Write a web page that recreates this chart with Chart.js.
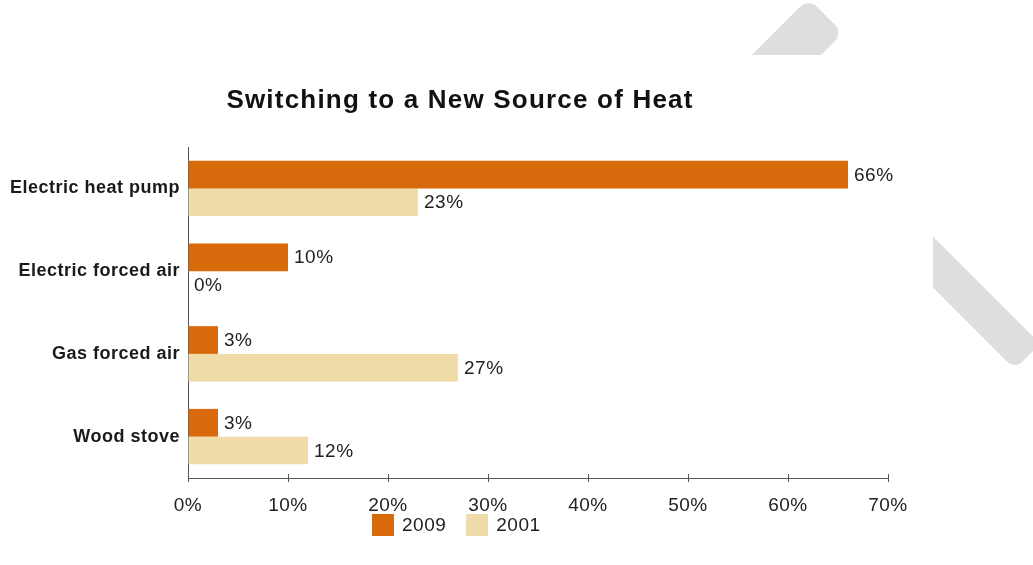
<!DOCTYPE html>
<html>
<head>
<meta charset="utf-8">
<title>Switching to a New Source of Heat</title>
<script src="https://cdn.jsdelivr.net/npm/chart.js@4.4.1/dist/chart.umd.min.js"></script>
<style>
    html, body {
        margin: 0;
        padding: 0;
        background: #fff;
        overflow: hidden;
    }
    body {
        position: relative;
        width: 1033px;
        height: 565px;
        font-family: "Liberation Sans", Arial, sans-serif;
    }
    .stroke {
        position: absolute;
        background: #dedede;
        transform-origin: 0 50%;
        z-index: 0;
    }
    #strokeUp {
        left: 700px;
        top: 117px;
        width: 178px;
        height: 49px;
        border-radius: 12px;
        transform: rotate(-45deg);
    }
    #strokeDown {
        left: 850px;
        top: 161px;
        width: 251px;
        height: 36px;
        border-radius: 10px;
        transform: rotate(45deg);
    }
    #chartBox {
        position: absolute;
        left: 0;
        top: 55px;
        width: 933px;
        height: 510px;
        background: #fff;
        z-index: 1;
    }
    #chartTitle {
        position: absolute;
        left: 0;
        top: 84px;
        width: 920px;
        text-align: center;
        font-weight: bold;
        font-size: 26px;
        line-height: 30px;
        letter-spacing: 1.2px;
        color: #111;
        z-index: 2;
    }
    #legend {
        position: absolute;
        top: 514px;
        left: 372px;
        display: flex;
        align-items: center;
        font-size: 19px;
        line-height: 22px;
        letter-spacing: 0.5px;
        color: #222;
        z-index: 2;
    }
    .legend-box {
        width: 22px;
        height: 22px;
        margin-right: 8px;
    }
    .legend-item {
        display: flex;
        align-items: center;
        margin-right: 20px;
    }
</style>
</head>
<body>
<div class="stroke" id="strokeUp"></div>
<div class="stroke" id="strokeDown"></div>
<div id="chartBox"><canvas id="heatChart"></canvas></div>
<div id="chartTitle">Switching to a New Source of Heat</div>
<div id="legend"></div>

<script>
// Data
const categories = ['Electric heat pump', 'Electric forced air', 'Gas forced air', 'Wood stove'];
const seriesNames = ['2009', '2001'];
const values2009 = [66, 10, 3, 3];
const values2001 = [23, 0, 27, 12];
const xTicks = [0, 10, 20, 30, 40, 50, 60, 70];

// Colours
const ORANGE = '#d96a0b';
const BEIGE = '#efdca8';
const AXIS = '#555555';

const FONT = '"Liberation Sans", Arial, sans-serif';

// Text spacing on the canvas, reset whenever the canvas is resized
const letterSpacingPlugin = {
    id: 'letterSpacing',
    beforeUpdate(chart) {
        chart.ctx.letterSpacing = '0.5px';
    },
    beforeDraw(chart) {
        chart.ctx.letterSpacing = '0.5px';
    }
};

// Value labels at the end of each bar, plus tick marks above the x axis
const valueLabelPlugin = {
    id: 'valueLabels',
    afterDatasetsDraw(chart) {
        const ctx = chart.ctx;
        ctx.save();
        ctx.font = '19px ' + FONT;
        ctx.fillStyle = '#222';
        ctx.textAlign = 'left';
        ctx.textBaseline = 'middle';
        chart.data.datasets.forEach((ds, i) => {
            const meta = chart.getDatasetMeta(i);
            meta.data.forEach((bar, j) => {
                ctx.fillText(ds.data[j] + '%', bar.x + 6, bar.y + 1);
            });
        });
        ctx.restore();
    },
    afterDraw(chart) {
        const ctx = chart.ctx;
        const xScale = chart.scales.x;
        const axisY = chart.chartArea.bottom;
        ctx.save();
        ctx.strokeStyle = AXIS;
        ctx.lineWidth = 1;
        ctx.beginPath();
        xTicks.forEach(v => {
            const px = Math.round(xScale.getPixelForValue(v)) + 0.5;
            ctx.moveTo(px, axisY - 4);
            ctx.lineTo(px, axisY);
        });
        ctx.stroke();
        ctx.restore();
    }
};

function buildLegend() {
    const legend = document.getElementById('legend');
    const colours = [ORANGE, BEIGE];
    seriesNames.forEach((name, i) => {
        const item = document.createElement('div');
        item.className = 'legend-item';
        const box = document.createElement('span');
        box.className = 'legend-box';
        box.style.background = colours[i];
        const label = document.createElement('span');
        label.textContent = name;
        item.appendChild(box);
        item.appendChild(label);
        legend.appendChild(item);
    });
}

const chart = new Chart(document.getElementById('heatChart'), {
    type: 'bar',
    data: {
        labels: categories,
        datasets: [{
            label: seriesNames[0],
            data: values2009,
            backgroundColor: ORANGE,
            categoryPercentage: 0.67,
            barPercentage: 1.0
        }, {
            label: seriesNames[1],
            data: values2001,
            backgroundColor: BEIGE,
            categoryPercentage: 0.67,
            barPercentage: 1.0
        }]
    },
    options: {
        indexAxis: 'y',
        responsive: true,
        maintainAspectRatio: false,
        animation: false,
        layout: {
            padding: { top: 92, right: 45, bottom: 0, left: 0 }
        },
        plugins: {
            legend: { display: false },
            title: { display: false },
            tooltip: { enabled: false }
        },
        scales: {
            x: {
                min: 0,
                max: 70,
                afterBuildTicks: (scale) => {
                    scale.ticks = xTicks.map(v => ({ value: v }));
                },
                afterFit: (scale) => {
                    scale.height = 87;
                },
                grid: {
                    drawOnChartArea: false,
                    drawTicks: true,
                    tickLength: 4,
                    color: AXIS
                },
                border: { display: true, color: AXIS, width: 1 },
                ticks: {
                    callback: (v) => v + '%',
                    font: { family: FONT, size: 19 },
                    color: '#222',
                    padding: 12,
                    maxRotation: 0
                }
            },
            y: {
                afterFit: (scale) => {
                    scale.width = 188;
                },
                grid: {
                    drawOnChartArea: false,
                    drawTicks: false
                },
                border: { display: true, color: AXIS, width: 1 },
                ticks: {
                    font: { family: FONT, size: 18, weight: 'bold' },
                    color: '#1a1a1a',
                    padding: 8
                }
            }
        }
    },
    plugins: [letterSpacingPlugin, valueLabelPlugin]
});

buildLegend();
</script>
</body>
</html>
